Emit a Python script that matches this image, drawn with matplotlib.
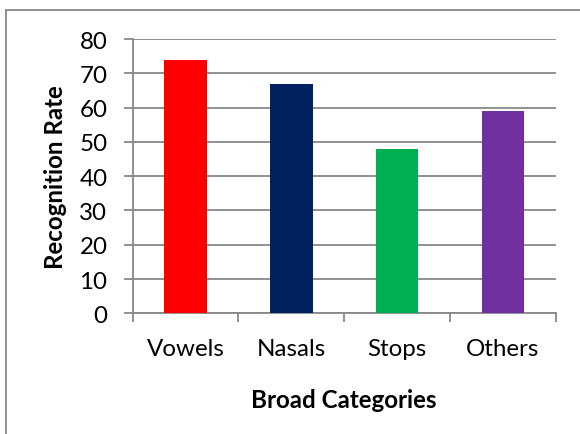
import matplotlib
matplotlib.use("Agg")
import matplotlib.pyplot as plt
from matplotlib.patches import Rectangle
import numpy as np

# data
categories = ["Vowels", "Nasals", "Stops", "Others"]
rates = [74, 67, 48, 59]
bar_colors = ["#FF0000", "#002060", "#00B050", "#7030A0"]
y_ticks = [0, 10, 20, 30, 40, 50, 60, 70, 80]

plt.rcParams['font.family'] = ['Lato', 'DejaVu Sans']
grid_col = "#888888"
fs = 17.4

fig = plt.figure(figsize=(5.8, 4.35), dpi=100)
ax = fig.add_axes([0.2288, 0.2775, 0.7294, 0.6305])

x = np.arange(len(categories))
ax.bar(x, rates, width=0.4, color=bar_colors, zorder=3)

ax.set_xlim(-0.5, len(categories) - 0.5)
ax.set_ylim(0, 80)
ax.set_yticks(y_ticks)
ax.yaxis.grid(True, color=grid_col, linewidth=1.3, zorder=0)

# category boundaries as major ticks, names on minor ticks
ax.set_xticks(np.arange(len(categories) + 1) - 0.5)
ax.set_xticklabels([])
ax.set_xticks(x, minor=True)
ax.set_xticklabels(categories, minor=True)
ax.tick_params(axis='x', which='major', length=6.5, width=1.3, color=grid_col)
ax.tick_params(axis='x', which='minor', length=0, pad=18, labelsize=fs)
ax.tick_params(axis='y', length=6.2, width=1.3, color=grid_col, pad=12, labelsize=fs)

for s in ["top", "right"]:
    ax.spines[s].set_visible(False)
for s in ["left", "bottom"]:
    ax.spines[s].set_color(grid_col)
    ax.spines[s].set_linewidth(1.3)

ax.set_xlabel("Broad Categories", fontsize=fs, fontweight="bold")
ax.xaxis.set_label_coords(0.5, -0.315)
ax.xaxis.label.set_verticalalignment("center")
ax.set_ylabel("Recognition Rate", fontsize=fs, fontweight="bold")
ax.yaxis.set_label_coords(-0.183, 0.5)
ax.yaxis.label.set_verticalalignment("center")

# chart area border
fig.patches.append(Rectangle((6 / 580, -0.2), 1.2, 0.2 + 1 - 10.7 / 435,
                             transform=fig.transFigure, fill=False,
                             edgecolor=grid_col, linewidth=1.3))

fig.savefig("out.png", dpi=100)
